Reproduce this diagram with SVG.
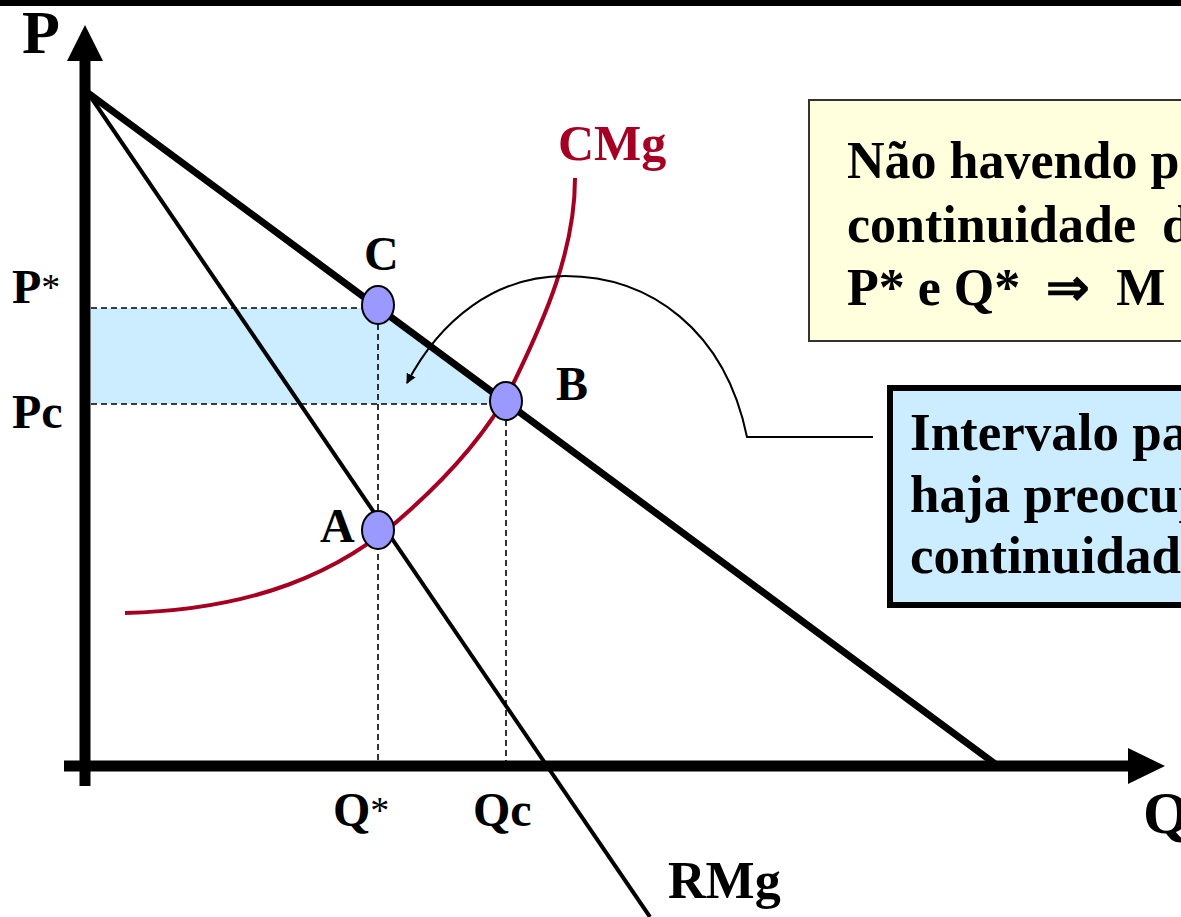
<svg xmlns="http://www.w3.org/2000/svg" width="1181" height="917" viewBox="0 0 1181 917">
<style>
  text { font-family: "Liberation Serif", "Times New Roman", serif; font-weight: bold; fill: #000; }
  .lbl { font-size: 48px; }
  .boxy { font-size: 52px; }
  .boxb { font-size: 53px; }
  .dash { stroke: #000; stroke-width: 1.6; stroke-dasharray: 6 4; fill: none; }
  .pt { fill: #9999FF; stroke: #000; stroke-width: 2; }
  .ast { font-size: 38px; font-weight: normal; }
</style>
<defs>
  <marker id="ah" markerWidth="10" markerHeight="10" refX="9" refY="5" orient="auto" markerUnits="userSpaceOnUse" viewBox="0 0 10 10">
    <path d="M0,0 L10,5 L0,10 Z" fill="#000"/>
  </marker>
</defs>
<rect x="0" y="0" width="1181" height="917" fill="#fff"/>
<rect x="0" y="0" width="1181" height="6" fill="#000"/>

<!-- shaded area -->
<polygon points="91,308 378,308 506,404 91,404" fill="#CCECFF"/>

<g id="connectors">
  <line class="dash" x1="91" y1="308" x2="370" y2="308"/>
  <line class="dash" x1="91" y1="404" x2="492" y2="404"/>
  <line class="dash" x1="378" y1="324" x2="378" y2="761"/>
  <line class="dash" x1="506" y1="420" x2="506" y2="761"/>
  <line x1="88" y1="93" x2="650" y2="917" stroke="#000" stroke-width="4"/>
  <line x1="88" y1="93" x2="998" y2="766" stroke="#000" stroke-width="7"/>
  <path d="M125,613 C250,610 340,575 410,510 C460,465 495,420 515,380 C545,318 575,250 575,178" fill="none" stroke="#A50021" stroke-width="4"/>
  <path d="M873,437 L747,437 C725,330 650,276 565,276 C495,276 440,320 407,383" fill="none" stroke="#000" stroke-width="2" marker-end="url(#ah)"/>
  <line x1="85" y1="55" x2="85" y2="786" stroke="#000" stroke-width="11"/>
  <polygon points="85,25 67,61 103,61" fill="#000"/>
  <line x1="64" y1="766" x2="1132" y2="766" stroke="#000" stroke-width="11"/>
  <polygon points="1165,766 1128,748 1128,784" fill="#000"/>
</g>

<g id="point-C"><ellipse class="pt" cx="378" cy="305" rx="16" ry="19"/><text class="lbl" x="364" y="270">C</text></g>
<g id="point-B"><ellipse class="pt" cx="506" cy="401" rx="16" ry="19"/><text class="lbl" x="556" y="400">B</text></g>
<g id="point-A"><ellipse class="pt" cx="378" cy="530" rx="16" ry="19"/><text class="lbl" x="320" y="542">A</text></g>

<g id="labels">
  <text x="22" y="53" font-size="62">P</text>
  <text class="lbl" x="12" y="303">P<tspan class="ast" dy="-3">*</tspan></text>
  <text class="lbl" x="12" y="428">Pc</text>
  <text class="lbl" x="333" y="826">Q<tspan class="ast" dy="-3">*</tspan></text>
  <text class="lbl" x="473" y="826">Qc</text>
  <text x="558" y="160" font-size="50" style="fill:#A50021">CMg</text>
  <text x="668" y="898" font-size="52">RMg</text>
  <text x="1143" y="833" font-size="60">Q</text>
</g>

<g id="box-yellow">
  <rect x="809" y="100" width="400" height="241" fill="#FFFFDD" stroke="#333" stroke-width="2"/>
  <text class="boxy" x="847" y="178">Não havendo p</text>
  <text class="boxy" x="847" y="242" xml:space="preserve">continuidade  d</text>
  <text class="boxy" x="847" y="305" xml:space="preserve">P* e Q*  ⇒  M</text>
</g>

<g id="box-blue">
  <rect x="890" y="388" width="320" height="217" fill="#CCECFF" stroke="#000" stroke-width="6"/>
  <text class="boxb" x="910" y="450">Intervalo pa</text>
  <text class="boxb" x="910" y="512">haja preocup</text>
  <text class="boxb" x="910" y="573">continuidad</text>
</g>
</svg>
